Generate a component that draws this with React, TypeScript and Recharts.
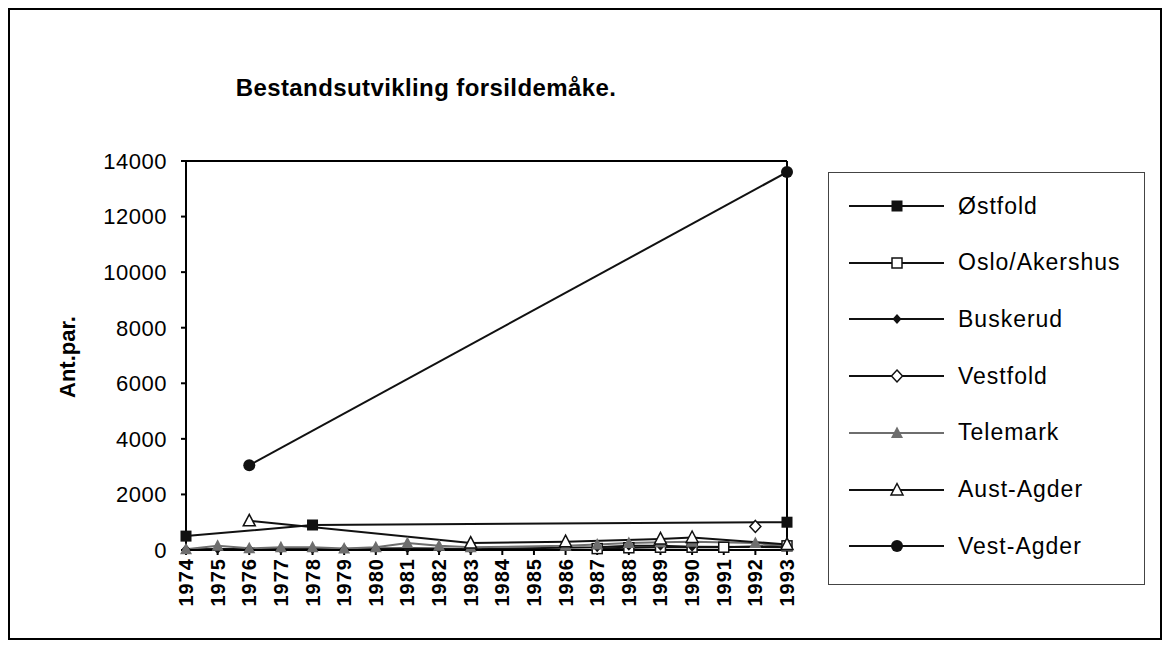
import { Line, LineChart, ReferenceLine, XAxis, YAxis } from 'recharts'

const years = [
  '1974', '1975', '1976', '1977', '1978', '1979', '1980', '1981', '1982', '1983',
  '1984', '1985', '1986', '1987', '1988', '1989', '1990', '1991', '1992', '1993',
]
const yTicks = [0, 2000, 4000, 6000, 8000, 10000, 12000, 14000]

// antall par per år, null = ikke talt
const ostfold = [500, null, null, null, 900, null, null, null, null, null, null, null, null, null, null, null, null, null, null, 1000]
const osloAkershus = [null, null, null, null, null, null, null, null, null, null, null, null, null, 50, 80, 100, 100, 100, null, 150]
const buskerud = [30, 40, 40, 40, 40, 40, 50, 60, 50, 30, null, null, null, 100, 150, 150, 120, null, null, 100]
const vestfold = [null, null, null, null, null, null, null, null, null, null, null, null, null, null, null, null, null, null, 850, null]
const telemark = [30, 150, 60, 100, 100, 50, 100, 250, 150, 100, null, null, 150, 200, 250, 280, 300, null, 250, 150]
const austAgder = [null, null, 1050, null, null, null, null, null, null, 250, null, null, 300, null, null, 400, 450, null, null, 200]
const vestAgder = [null, null, 3050, null, null, null, null, null, null, null, null, null, null, null, null, null, null, null, null, 13600]

const seriesNames = ['Østfold', 'Oslo/Akershus', 'Buskerud', 'Vestfold', 'Telemark', 'Aust-Agder', 'Vest-Agder']

type MarkerKind =
  | 'squareFilled'
  | 'squareOpen'
  | 'diamondFilled'
  | 'diamondOpen'
  | 'triangleFilled'
  | 'triangleOpen'
  | 'circleFilled'

const series: { key: string; name: string; values: (number | null)[]; marker: MarkerKind; color: string }[] = [
  { key: 'ostfold', name: seriesNames[0], values: ostfold, marker: 'squareFilled', color: '#111' },
  { key: 'osloAkershus', name: seriesNames[1], values: osloAkershus, marker: 'squareOpen', color: '#111' },
  { key: 'buskerud', name: seriesNames[2], values: buskerud, marker: 'diamondFilled', color: '#111' },
  { key: 'vestfold', name: seriesNames[3], values: vestfold, marker: 'diamondOpen', color: '#111' },
  { key: 'telemark', name: seriesNames[4], values: telemark, marker: 'triangleFilled', color: '#6e6e6e' },
  { key: 'austAgder', name: seriesNames[5], values: austAgder, marker: 'triangleOpen', color: '#111' },
  { key: 'vestAgder', name: seriesNames[6], values: vestAgder, marker: 'circleFilled', color: '#111' },
]

const data = years.map((year, i) => {
  const row: Record<string, string | number | null> = { year }
  series.forEach((s) => {
    row[s.key] = s.values[i]
  })
  return row
})

const FONT = 'Arial, "Liberation Sans", sans-serif'

function Marker({ kind, color, x, y }: { kind: MarkerKind; color: string; x: number; y: number }) {
  switch (kind) {
    case 'squareFilled':
      return <rect x={x - 5.5} y={y - 5.5} width={11} height={11} fill={color} />
    case 'squareOpen':
      return <rect x={x - 5} y={y - 5} width={10} height={10} fill="#fff" stroke={color} strokeWidth={1.5} />
    case 'diamondFilled':
      return <polygon points={`${x},${y - 5} ${x + 4.5},${y} ${x},${y + 5} ${x - 4.5},${y}`} fill={color} />
    case 'diamondOpen':
      return (
        <polygon
          points={`${x},${y - 6} ${x + 5.5},${y} ${x},${y + 6} ${x - 5.5},${y}`}
          fill="#fff"
          stroke={color}
          strokeWidth={1.5}
        />
      )
    case 'triangleFilled':
      return <polygon points={`${x},${y - 6.5} ${x + 6},${y + 5} ${x - 6},${y + 5}`} fill={color} />
    case 'triangleOpen':
      return (
        <polygon
          points={`${x},${y - 6.5} ${x + 6},${y + 5} ${x - 6},${y + 5}`}
          fill="#fff"
          stroke={color}
          strokeWidth={1.5}
        />
      )
    default:
      return <circle cx={x} cy={y} r={6} fill={color} />
  }
}

function YearTick(props: any) {
  const { x, y, payload } = props
  return (
    <g transform={`translate(${x},${y})`}>
      <text
        transform="rotate(-90)"
        textAnchor="end"
        dy={7}
        fontSize={20}
        fontWeight="bold"
        letterSpacing={1}
        fontFamily={FONT}
        fill="#000"
      >
        {payload.value}
      </text>
    </g>
  )
}

export default function App() {
  return (
    <div
      style={{
        position: 'relative',
        width: 1150,
        height: 628,
        border: '2px solid #000',
        background: '#fff',
        fontFamily: FONT,
      }}
    >
      <div
        style={{
          position: 'absolute',
          left: 0,
          top: 64,
          width: 832,
          textAlign: 'center',
          fontSize: 24,
          lineHeight: '28px',
          fontWeight: 'bold',
          letterSpacing: 0.4,
        }}
      >
        Bestandsutvikling forsildemåke.
      </div>

      <div
        style={{
          position: 'absolute',
          left: 58,
          top: 347,
          transform: 'translate(-50%, -50%) rotate(-90deg)',
          whiteSpace: 'nowrap',
          fontSize: 22,
          fontWeight: 'bold',
        }}
      >
        Ant.par.
      </div>

      <div style={{ position: 'absolute', left: 0, top: 0 }}>
        <LineChart width={800} height={620} data={data} margin={{ top: 151, right: 23, bottom: 10, left: 0 }}>
          <XAxis
            dataKey="year"
            interval={0}
            height={70}
            tickSize={5}
            tickMargin={3}
            stroke="#000"
            strokeWidth={2}
            tick={<YearTick />}
          />
          <YAxis
            width={176}
            domain={[0, 14000]}
            ticks={yTicks}
            tickSize={5}
            tickMargin={14}
            stroke="#000"
            strokeWidth={2}
            tick={{ fontSize: 22, fill: '#000', fontFamily: FONT, letterSpacing: 0.5 }}
          />
          <ReferenceLine y={14000} stroke="#000" strokeWidth={2} />
          <ReferenceLine x="1993" stroke="#000" strokeWidth={2} />
          {series.map((s) => (
            <Line
              key={s.key}
              dataKey={s.key}
              name={s.name}
              type="linear"
              stroke={s.color}
              strokeWidth={2}
              connectNulls
              isAnimationActive={false}
              activeDot={false}
              dot={(p: any) =>
                p.cy == null || p.payload?.[s.key] == null ? (
                  <g key={`${s.key}-${p.index}`} />
                ) : (
                  <g key={`${s.key}-${p.index}`}>
                    <Marker kind={s.marker} color={s.color} x={p.cx} y={p.cy} />
                  </g>
                )
              }
            />
          ))}
        </LineChart>
      </div>

      <div
        style={{
          position: 'absolute',
          left: 818,
          top: 162,
          width: 315,
          height: 411,
          border: '1px solid #444',
        }}
      >
        {series.map((s, i) => (
          <div
            key={s.key}
            style={{
              position: 'absolute',
              left: 0,
              top: 33 + i * 56.7 - 14,
              height: 28,
              display: 'flex',
              alignItems: 'center',
            }}
          >
            <svg width={129} height={28} style={{ display: 'block' }}>
              <line x1={20} y1={14} x2={115} y2={14} stroke={s.color} strokeWidth={2} />
              <Marker kind={s.marker} color={s.color} x={68} y={14} />
            </svg>
            <span style={{ fontSize: 23, letterSpacing: 1, whiteSpace: 'nowrap' }}>{s.name}</span>
          </div>
        ))}
      </div>
    </div>
  )
}
